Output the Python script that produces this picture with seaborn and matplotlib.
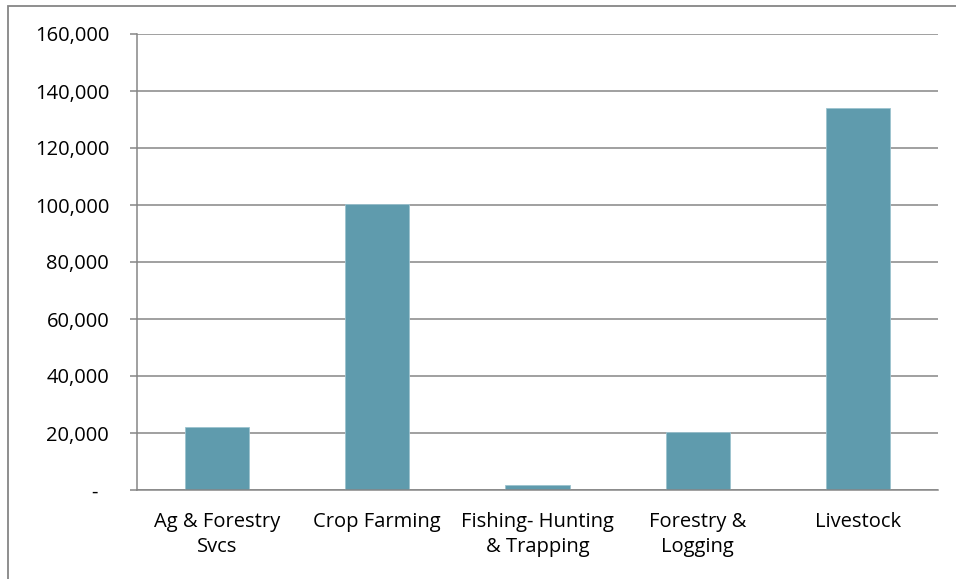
import matplotlib
matplotlib.use("Agg")
import matplotlib.pyplot as plt
import seaborn as sns
import pandas as pd
from matplotlib.patches import Rectangle
from matplotlib.ticker import FuncFormatter, FixedLocator

categories = ["Ag & Forestry\nSvcs", "Crop Farming", "Fishing- Hunting\n& Trapping",
              "Forestry &\nLogging", "Livestock"]
values = [22100, 100400, 1900, 20300, 134000]
y_ticks = [0, 20000, 40000, 60000, 80000, 100000, 120000, 140000, 160000]

sns.set_theme(style="white")
plt.rcParams['font.family'] = ['Open Sans', 'DejaVu Sans']

GRAY = "#868686"
BAR = "#5F9BAD"
FS = 14.5

fig = plt.figure(figsize=(9.56, 5.79), dpi=100)
ax = fig.add_axes([137/956, 1-490/579, (938-137)/956, (490-34)/579])

df = pd.DataFrame({"cat": categories, "val": values})
sns.barplot(data=df, x="cat", y="val", color=BAR, saturation=1, width=0.4,
            ax=ax, edgecolor="#9cc3cf", linewidth=0.6)

ax.set_xlim(-0.5, len(categories) - 0.5)
ax.set_ylim(0, 160000)
ax.yaxis.set_major_locator(FixedLocator(y_ticks))
ax.yaxis.set_major_formatter(FuncFormatter(lambda v, p: "-  " if v == 0 else f"{int(v):,}"))
ax.grid(axis="y", color=GRAY, linewidth=1.1)
ax.set_axisbelow(True)

ax.set_xlabel("")
ax.set_ylabel("")
for s in ["top", "right"]:
    ax.spines[s].set_visible(False)
for s in ["left", "bottom"]:
    ax.spines[s].set_color(GRAY)
    ax.spines[s].set_linewidth(1.1)

ax.tick_params(axis="x", which="major", length=0, pad=15.5, labelsize=FS, colors="black")
ax.xaxis.set_minor_locator(FixedLocator([i - 0.5 for i in range(len(categories) + 1)]))
ax.tick_params(axis="x", which="minor", length=5, width=1.1, color=GRAY, direction="out")
ax.tick_params(axis="y", which="major", length=5, width=1.1, color=GRAY, direction="out",
               pad=15, labelsize=FS, labelcolor="black", left=True)
for lab in ax.get_xticklabels():
    lab.set_linespacing(1.38)

# outer chart border (left and top visible)
fig.patches.append(Rectangle((7.5/956, -0.1), 1.2, 1.1 - 5.7/579,
                             transform=fig.transFigure, fill=False,
                             edgecolor=GRAY, linewidth=1.3))

fig.savefig("out.png", dpi=100)
